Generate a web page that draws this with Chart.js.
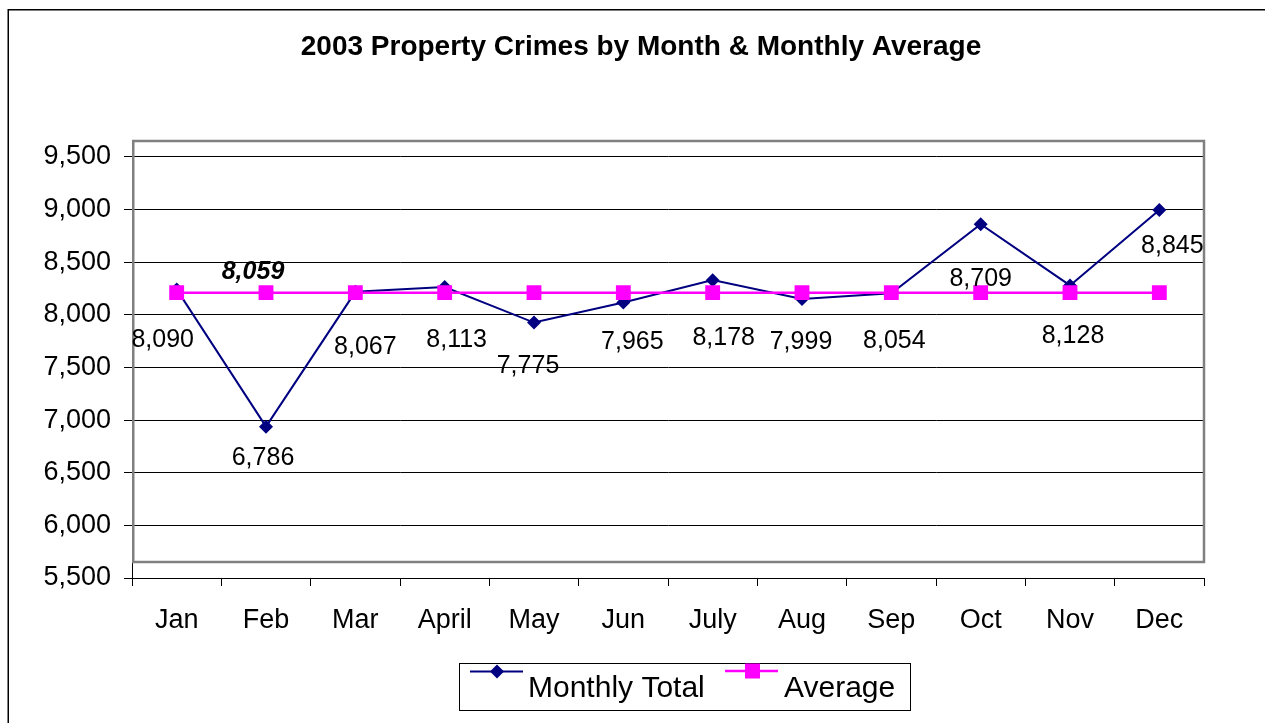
<!DOCTYPE html>
<html><head><meta charset="utf-8">
<script src="https://cdn.jsdelivr.net/npm/chart.js@4.4.1/dist/chart.umd.min.js"></script>
<style>html,body{margin:0;padding:0;background:#fff;} #wrap{width:1265px;height:723px;position:relative;}</style>
</head><body><div id="wrap"><canvas id="c"></canvas></div>
<script>
// ---- data ----
const months = ['Jan','Feb','Mar','April','May','Jun','July','Aug','Sep','Oct','Nov','Dec'];
const monthlyTotal = [8090, 6786, 8067, 8113, 7775, 7965, 8178, 7999, 8054, 8709, 8128, 8845];
const monthlyAverage = [8059, 8059, 8059, 8059, 8059, 8059, 8059, 8059, 8059, 8059, 8059, 8059];
const seriesNames = ['Monthly Total', 'Average'];
const chartTitle = '2003 Property Crimes by Month & Monthly Average';
const yTicks = [5500, 6000, 6500, 7000, 7500, 8000, 8500, 9000, 9500];

// ---- style ----
const FONT = '"Liberation Sans", Arial, Helvetica, sans-serif';
const NAVY = '#000080', MAGENTA = '#FF00FF';
const plotShift = 152; // the reference draws its data frame this many units above the value axis
const labelOffsets = [[-14,51],[-3,31],[10,55],[12,53],[-6,44],[9,40],[11,58],[-1,43],[3,48],[0,55],[3,51],[13,36]];
const averageLabelIndex = 1, averageLabelOffset = [-13,-21];
const fmt = v => v.toLocaleString('en-US');
const yMin = yTicks[0], yMax = yTicks[yTicks.length - 1];

const decorPlugin = {
  id: 'decor',
  beforeDraw(chart) {
    const ctx = chart.ctx;
    ctx.save();
    ctx.fillStyle = '#fff';
    ctx.fillRect(0, 0, chart.width, chart.height);
    ctx.strokeStyle = '#000';
    ctx.lineWidth = 1.5;
    ctx.beginPath();
    ctx.moveTo(8.25, chart.height + 2);
    ctx.lineTo(8.25, 9.75);
    ctx.lineTo(chart.width + 2, 9.75);
    ctx.stroke();
    // title
    ctx.fillStyle = '#000';
    ctx.font = 'bold 28px ' + FONT;
    ctx.textAlign = 'center';
    ctx.textBaseline = 'middle';
    ctx.fillText(chartTitle, 641, 47);
    ctx.restore();
  },
  beforeDatasetsDraw(chart) {
    const ctx = chart.ctx, ca = chart.chartArea, ys = chart.scales.y;
    const top = ys.getPixelForValue(yMax), bot = ys.getPixelForValue(yMin);
    ctx.save();
    ctx.strokeStyle = '#808080';
    ctx.lineWidth = 2.5;
    ctx.strokeRect(ca.left + 1.25, top, ca.right - ca.left - 1.25, bot - top);
    ctx.restore();
  },
  afterDatasetsDraw(chart) {
    const ctx = chart.ctx;
    ctx.save();
    ctx.fillStyle = '#000';
    ctx.textAlign = 'center';
    ctx.textBaseline = 'middle';
    ctx.font = '25px ' + FONT;
    const m0 = chart.getDatasetMeta(0);
    m0.data.forEach((pt, i) => {
      const o = labelOffsets[i];
      ctx.fillText(fmt(chart.data.datasets[0].data[i]), pt.x + o[0], pt.y + o[1]);
    });
    const m1 = chart.getDatasetMeta(1);
    const p = m1.data[averageLabelIndex];
    ctx.font = 'italic bold 25px ' + FONT;
    ctx.fillText(fmt(chart.data.datasets[1].data[averageLabelIndex]), p.x + averageLabelOffset[0], p.y + averageLabelOffset[1]);
    // legend
    ctx.strokeStyle = '#000';
    ctx.lineWidth = 1;
    ctx.strokeRect(459.5, 663.5, 451, 47);
    ctx.lineWidth = 2;
    ctx.strokeStyle = NAVY; ctx.fillStyle = NAVY;
    ctx.beginPath(); ctx.moveTo(470, 671.5); ctx.lineTo(523, 671.5); ctx.stroke();
    ctx.beginPath(); ctx.moveTo(497, 664.5); ctx.lineTo(504, 671.5); ctx.lineTo(497, 678.5); ctx.lineTo(490, 671.5); ctx.closePath(); ctx.fill();
    ctx.strokeStyle = MAGENTA; ctx.fillStyle = MAGENTA;
    ctx.lineWidth = 2.5;
    ctx.beginPath(); ctx.moveTo(725, 671); ctx.lineTo(778, 671); ctx.stroke();
    ctx.fillRect(745, 663.5, 15, 15);
    ctx.fillStyle = '#000';
    ctx.font = '30px ' + FONT;
    ctx.textAlign = 'left';
    ctx.textBaseline = 'alphabetic';
    ctx.fillText(chart.data.datasets[0].label, 528, 697);
    ctx.fillText(chart.data.datasets[1].label, 784, 697);
    ctx.restore();
  }
};

new Chart(document.getElementById('c'), {
  type: 'line',
  data: {
    labels: months,
    datasets: [
      { label: seriesNames[0], data: monthlyTotal, borderColor: NAVY, backgroundColor: NAVY,
        borderWidth: 2, pointStyle: 'rectRot', pointRadius: 7, pointBorderWidth: 0,
        pointBackgroundColor: NAVY, tension: 0, fill: false, order: 1, yAxisID: 'y' },
      { label: seriesNames[1], data: monthlyAverage, borderColor: MAGENTA, backgroundColor: MAGENTA,
        borderWidth: 2.5, pointStyle: 'rect', pointRadius: 10.5, pointBorderWidth: 0,
        pointBackgroundColor: MAGENTA, tension: 0, fill: false, order: 0, yAxisID: 'y' }
    ]
  },
  options: {
    responsive: true, maintainAspectRatio: false, animation: false,
    layout: { padding: { top: 141, left: 0, right: 61, bottom: 0 } },
    plugins: { legend: { display: false }, title: { display: false }, tooltip: { enabled: false } },
    scales: {
      x: {
        type: 'category', offset: true,
        grid: { offset: true, drawOnChartArea: false, drawTicks: true, tickLength: 8, color: '#000', lineWidth: 1 },
        border: { color: '#000', width: 1 },
        ticks: { color: '#000', font: { size: 27, family: FONT }, padding: 18, maxRotation: 0, autoSkip: false },
        afterFit: s => { s.height = 145; }
      },
      yAxis: {
        type: 'linear', position: 'left', axis: 'y',
        min: yMin, max: yMax + plotShift,
        afterBuildTicks: s => { s.ticks = yTicks.map(v => ({ value: v })); },
        ticks: { color: '#000', font: { size: 27, family: FONT }, padding: 13, callback: v => fmt(v) },
        grid: { color: '#000', lineWidth: 1, tickLength: 8 },
        border: { color: '#000', width: 1 },
        afterFit: s => { s.width = 132; }
      },
      y: { type: 'linear', display: false, min: yMin - plotShift, max: yMax }
    }
  },
  plugins: [decorPlugin]
});
</script></body></html>
